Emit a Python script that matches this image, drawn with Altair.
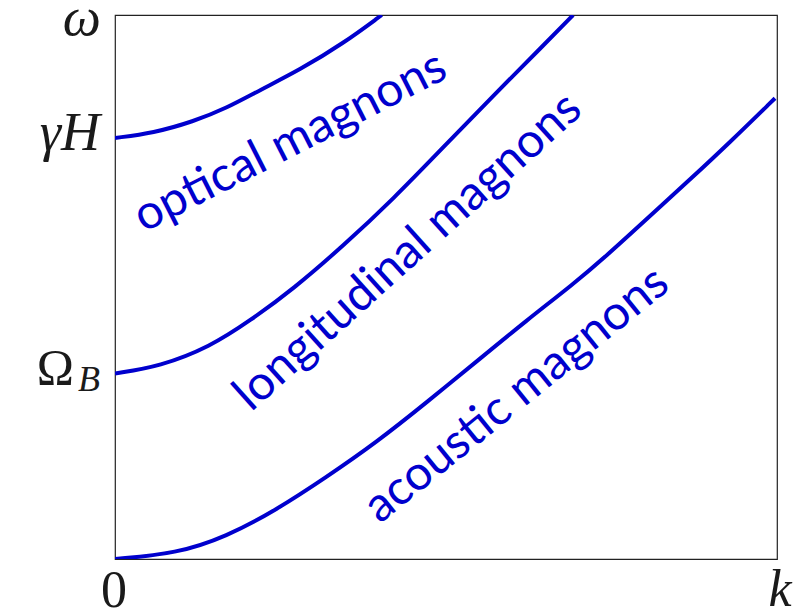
import altair as alt
import pandas as pd

# Dispersion branches: wave number k (0..1) vs frequency omega (0..1)
optical_k = [0.0, 0.058, 0.118, 0.169, 0.219, 0.279, 0.345, 0.403]
optical_w = [0.774, 0.783, 0.804, 0.829, 0.862, 0.899, 0.948, 1.0]

longitudinal_k = [0.0, 0.068, 0.1435, 0.204, 0.270, 0.345, 0.4205, 0.496, 0.5715, 0.647, 0.692]
longitudinal_w = [0.341, 0.354, 0.390, 0.438, 0.497, 0.576, 0.662, 0.757, 0.852, 0.944, 1.0]

acoustic_k = [0.0, 0.093, 0.168, 0.2435, 0.320, 0.395, 0.471, 0.549, 0.622, 0.692, 0.743, 0.803, 0.869, 0.928, 0.997]
acoustic_w = [0.0, 0.010, 0.041, 0.090, 0.151, 0.2145, 0.288, 0.366, 0.439, 0.505, 0.558, 0.625, 0.698, 0.765, 0.847]

# Branch names, placed along each curve
branch_names = ["optical magnons", "longitudinal magnons", "acoustic magnons"]
branch_label_k = [0.265, 0.443, 0.607]
branch_label_w = [0.766, 0.564, 0.301]
branch_label_angle = [333, 318, 321]

# Special frequencies marked on the vertical axis
gap_optical = 0.774       # gamma H
gap_longitudinal = 0.341  # Omega_B

BLUE = "#0000CD"
MATH_FONT = "Liberation Serif"

rows = []
for name, ks, ws in [("optical", optical_k, optical_w),
                     ("longitudinal", longitudinal_k, longitudinal_w),
                     ("acoustic", acoustic_k, acoustic_w)]:
    for k, w in zip(ks, ws):
        rows.append({"branch": name, "k": k, "w": w})
curves = pd.DataFrame(rows)

labels = pd.DataFrame({
    "text": branch_names,
    "k": branch_label_k,
    "w": branch_label_w,
    "angle": branch_label_angle,
})

xs = alt.Scale(domain=[0, 1], nice=False, zero=False)
ys = alt.Scale(domain=[0, 1], nice=False, zero=False)

lines = alt.Chart(curves).mark_line(
    color=BLUE, strokeWidth=4, interpolate="basis", clip=True
).encode(
    x=alt.X("k:Q", scale=xs, axis=None),
    y=alt.Y("w:Q", scale=ys, axis=None),
    detail="branch:N",
)

branch_text = alt.Chart(labels).mark_text(
    color=BLUE, font="Lato", fontSize=48, align="center", baseline="middle"
).encode(
    x=alt.X("k:Q", scale=xs),
    y=alt.Y("w:Q", scale=ys),
    text="text:N",
    angle=alt.Angle("angle:Q", scale=None),
)


def math_label(text, k, w, align, dx, dy, size=54, style="italic"):
    df = pd.DataFrame({"k": [k], "w": [w], "t": [text]})
    return alt.Chart(df).mark_text(
        font=MATH_FONT, fontSize=size, fontStyle=style, color="#1a1a1a",
        align=align, baseline="alphabetic", dx=dx, dy=dy,
    ).encode(
        x=alt.X("k:Q", scale=xs),
        y=alt.Y("w:Q", scale=ys),
        text="t:N",
    )


omega_lbl = math_label("ω", 0, 1.0, "right", -14, 20)
gammah_lbl = math_label("γH", 0, gap_optical, "right", -15, 12)
Omega_lbl = math_label("Ω", 0, gap_longitudinal, "right", -41, 11, size=50, style="normal")
sub_B_lbl = math_label("B", 0, gap_longitudinal, "right", -15, 18, size=36)
zero_lbl = math_label("0", 0, 0, "center", -1, 48, size=52, style="normal")
k_lbl = math_label("k", 1, 0, "center", 3, 47, size=52)

chart = alt.layer(
    lines, branch_text, omega_lbl, gammah_lbl, Omega_lbl, sub_B_lbl, zero_lbl, k_lbl
).properties(
    width=662,
    height=544,
    autosize=alt.AutoSizeParams(type="none"),
    padding={"left": 115, "top": 15, "right": 30, "bottom": 51},
    background="white",
).configure_view(
    stroke="#222222", strokeWidth=1.2
)

chart.save("out.html", embed_options={"renderer": "svg", "actions": False})
